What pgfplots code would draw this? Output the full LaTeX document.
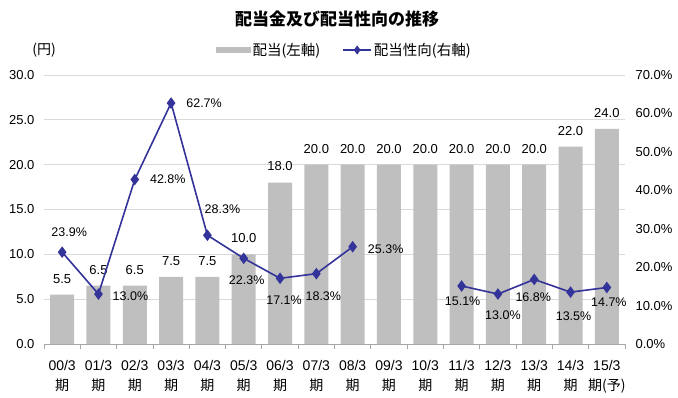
\documentclass[border=0pt]{standalone}
\usepackage{pgfplots}
\pgfplotsset{compat=1.18}
\usepackage{pgfplotstable}
\usepackage{fontspec}
\setmainfont{Liberation Sans}
\newfontfamily\cjk{Noto Sans CJK JP}
\definecolor{barGray}{HTML}{BFBFBF}
\definecolor{lineBlue}{HTML}{333399}
\definecolor{gridGray}{HTML}{D9D9D9}
\definecolor{axGray}{HTML}{A6A6A6}

\pgfplotstableread{
x y
0 5.5
1 6.5
2 6.5
3 7.5
4 7.5
5 10.0
6 18.0
7 20.0
8 20.0
9 20.0
10 20.0
11 20.0
12 20.0
13 20.0
14 22.0
15 24.0
}\dividend

\pgfplotstableread{
x y dx dy
0 23.9 7 20
1 13.0 32 -2
2 42.8 33 0
3 62.7 33 0
4 28.3 15 26
5 22.3 3 -22
6 17.1 4 -22
7 18.3 7 -23
8 25.3 33 -2
9 nan 0 0
10 nan 0 0
11 15.1 1 -15
12 13.0 5 -21
13 16.8 -1 -18
14 13.5 3 -24
15 14.7 2 -15
}\payout

\pgfplotsset{base/.style={scale only axis, width=581pt, height=269pt,
  at={(44pt,53pt)}, anchor=south west, xmin=-0.5, xmax=15.5,
  /pgf/number format/assume math mode=true,
  ticklabel style={font=\fontsize{13}{14}\selectfont}},
  mylineleg/.style={legend image code/.code={\draw[mark repeat=2, mark phase=2, ##1, mark size=3.2pt] plot coordinates {(0pt,0pt) (14pt,0pt) (28pt,0pt)};}},
  mybarleg/.style={legend image code/.code={\fill[barGray] (0pt,-2.5pt) rectangle (34pt,2.5pt);}}
}

\begin{document}
\begin{tikzpicture}
\useasboundingbox (0pt,0pt) rectangle (678pt,397pt);

\begin{axis}[base, ybar, bar width=24pt,
  ymin=0, ymax=30, ytick={0,5,...,30},
  axis x line*=bottom, axis y line*=left,
  y axis line style={draw=none},
  x axis line style={axGray, line width=0.8pt, -},
  ymajorgrids, y grid style={gridGray, line width=0.8pt},
  major tick length=0pt, minor tick length=5pt, tick align=outside,
  tick style={axGray, line width=0.8pt},
  xtick={0,...,15},
  minor xtick={-0.5,0.5,...,15.5},
  xticklabels={{00/3\\\cjk 期},{01/3\\\cjk 期},{02/3\\\cjk 期},{03/3\\\cjk 期},{04/3\\\cjk 期},{05/3\\\cjk 期},{06/3\\\cjk 期},{07/3\\\cjk 期},{08/3\\\cjk 期},{09/3\\\cjk 期},{10/3\\\cjk 期},{11/3\\\cjk 期},{12/3\\\cjk 期},{13/3\\\cjk 期},{14/3\\\cjk 期},{15/3\\\cjk 期(予)}},
  xticklabel style={align=center, font=\fontsize{14}{20}\selectfont, yshift=-13pt},
  yticklabel={\pgfmathprintnumber[fixed,fixed zerofill,precision=1]{\tick}},
  yticklabel style={xshift=-6pt},
  nodes near coords={\pgfmathprintnumber[fixed,fixed zerofill,precision=1]{\pgfplotspointmeta}},
  every node near coord/.append style={text=black, font=\fontsize{13}{14}\selectfont, yshift=8pt},
]
\addplot[fill=barGray, draw=none] table[x=x,y=y] {\dividend};
\end{axis}

\begin{axis}[base, ymin=0, ymax=70, ytick={0,10,...,70},
  axis y line*=right, axis x line=none,
  y axis line style={draw=none},
  major tick length=0pt,
  yticklabel={\pgfmathprintnumber[fixed,fixed zerofill,precision=1]{\tick}\%},
  yticklabel style={xshift=7pt},
  unbounded coords=jump,
  legend columns=2,
  legend style={at={(0.5,1)}, anchor=center, xshift=10pt, yshift=25pt,
    draw=none, fill=none, font=\cjk\fontsize{14.5}{16}\selectfont,
    /tikz/every even column/.append style={column sep=20pt}},
]
\addlegendimage{mybarleg}
\addlegendentry{配当(左軸)}
\addplot[lineBlue, line width=1.6pt, mark=diamond*, mark size=4.5pt, mylineleg,
  visualization depends on=\thisrow{dx}\as\dx,
  visualization depends on=\thisrow{dy}\as\dy,
  nodes near coords={\pgfmathprintnumber[fixed,fixed zerofill,precision=1]{\pgfplotspointmeta}\%},
  every node near coord/.append style={text=black, font=\fontsize{12.5}{14}\selectfont, anchor=center, xshift=\dx pt, yshift=\dy pt},
] table[x=x,y=y] {\payout};
\addlegendentry{配当性向(右軸)}
\end{axis}

\node[font=\cjk\bfseries\fontsize{17}{18}\selectfont] at (337pt,378pt) {配当金及び配当性向の推移};
\node[font=\cjk\fontsize{14}{15}\selectfont] at (44pt,347pt) {(円)};
\end{tikzpicture}
\end{document}
